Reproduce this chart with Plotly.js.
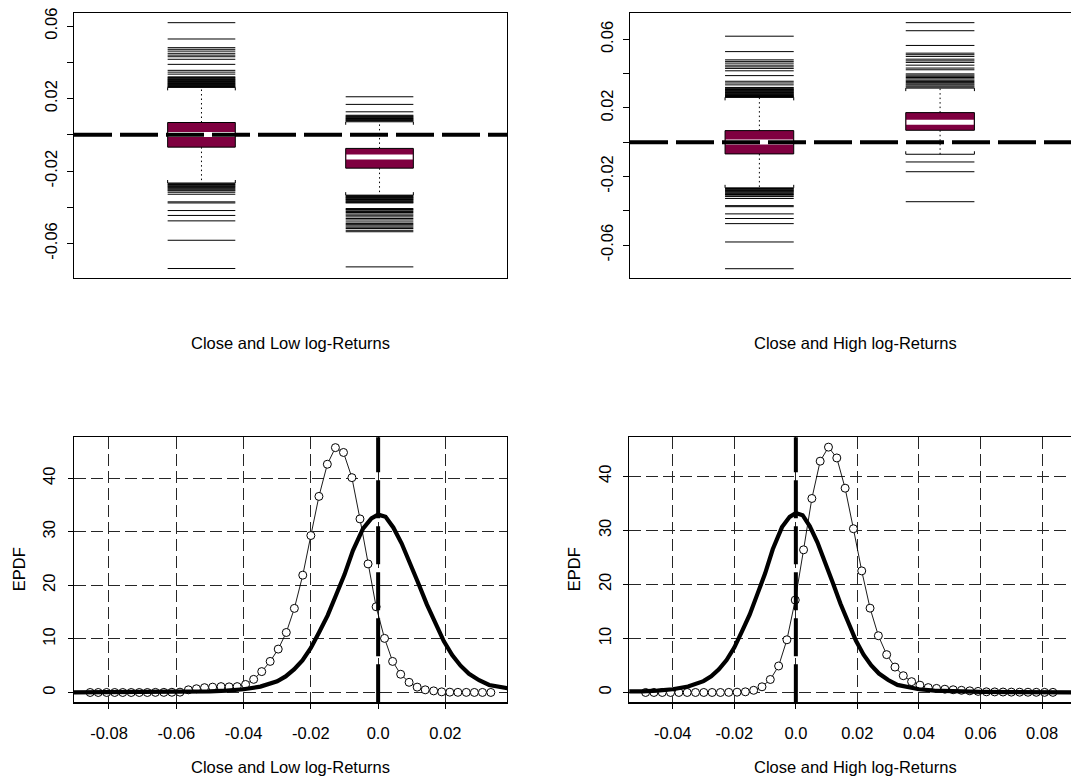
<!DOCTYPE html>
<html>
<head>
<meta charset="utf-8">
<script src="https://cdn.plot.ly/plotly-3.0.1.min.js"></script>
<style>
  html, body { margin: 0; padding: 0; overflow: hidden; background: #fff; }
  #chart { width: 1085px; height: 778px; }
</style>
</head>
<body>
<div id="chart"></div>
<script>
// ---- Box plot summaries: [lower whisker, Q1, median, Q3, upper whisker] ----
const closeFive = [-0.0266, -0.0068, 0.0002, 0.0068, 0.0262];
const lowFive   = [-0.0333, -0.0184, -0.0123, -0.0075, 0.0072];
const highFive  = [-0.0070, 0.0070, 0.0117, 0.0173, 0.0316];

// ---- Outlying returns beyond the whiskers ----
const closeOutliers = [0.0619, 0.0529, 0.0481, 0.0472, 0.0462, 0.0450, 0.0440, 0.0431, 0.0417,
  0.0389, 0.0356, 0.0346, 0.0335, 0.0320, 0.0316, 0.0312, 0.0308, 0.0305, 0.0301, 0.0298,
  0.0294, 0.0290, 0.0287, 0.0283, 0.0280, 0.0277, 0.0273, 0.0270, 0.0267, 0.0264,
  -0.0270, -0.0274, -0.0278, -0.0282, -0.0286, -0.0290, -0.0295, -0.0300, -0.0305, -0.0309,
  -0.0317, -0.0328, -0.0370, -0.0376, -0.0418, -0.0445, -0.0475, -0.0582, -0.0738];
const lowOutliers = [0.0210, 0.0168, 0.0127, 0.0108, 0.0104, 0.0100, 0.0097, 0.0093, 0.0090,
  0.0086, 0.0083, 0.0080, 0.0077,
  -0.0336, -0.0340, -0.0344, -0.0347, -0.0350, -0.0354, -0.0357, -0.0361, -0.0365, -0.0369,
  -0.0373, -0.0376, -0.0407, -0.0412, -0.0416, -0.0423, -0.0429, -0.0437, -0.0444, -0.0453,
  -0.0462, -0.0470, -0.0481, -0.0490, -0.0496, -0.0503, -0.0510, -0.0517, -0.0527, -0.0535,
  -0.0729];
const highOutliers = [0.0698, 0.0651, 0.0565, 0.0520, 0.0511, 0.0501, 0.0485, 0.0475, 0.0466,
  0.0450, 0.0433, 0.0423, 0.0399, 0.0392, 0.0385, 0.0378, 0.0370, 0.0362, 0.0355, 0.0348,
  0.0341, 0.0335, 0.0328, 0.0322,
  -0.0115, -0.0172, -0.0347];

// ---- Empirical densities (points) ----
const lowDensX = [-0.0856, -0.0832, -0.0807, -0.0783, -0.0759, -0.0734, -0.0710, -0.0686, -0.0662, -0.0637,
  -0.0613, -0.0589, -0.0564, -0.0540, -0.0516, -0.0492, -0.0467, -0.0443, -0.0419, -0.0394,
  -0.0370, -0.0346, -0.0321, -0.0297, -0.0273, -0.0249, -0.0224, -0.0200, -0.0176, -0.0151,
  -0.0127, -0.0103, -0.0078, -0.0054, -0.0030, -0.0006, 0.0019, 0.0043, 0.0067, 0.0092,
  0.0116, 0.0140, 0.0165, 0.0189, 0.0213, 0.0237, 0.0262, 0.0286, 0.0310, 0.0335];
const lowDensY = [0, 0, 0, 0, 0, 0, 0, 0, 0.02, 0.02,
  0.04, 0.06, 0.5, 0.7, 0.9, 1.0, 1.1, 1.05, 1.1, 1.5,
  2.45, 3.9, 5.8, 8.1, 11.2, 15.7, 21.9, 29.3, 36.6, 42.6,
  45.7, 44.8, 40.1, 32.4, 24.0, 16.0, 10.1, 5.8, 3.4, 1.9,
  1.0, 0.5, 0.3, 0.12, 0.06, 0.03, 0.02, 0.01, 0.01, 0.01];

const highDensX = [-0.0488, -0.0461, -0.0434, -0.0407, -0.0380, -0.0353, -0.0326, -0.0299, -0.0272, -0.0245,
  -0.0218, -0.0191, -0.0164, -0.0137, -0.0110, -0.0083, -0.0056, -0.0029, -0.0002, 0.0025,
  0.0052, 0.0079, 0.0106, 0.0133, 0.0160, 0.0187, 0.0214, 0.0241, 0.0268, 0.0295,
  0.0322, 0.0349, 0.0376, 0.0403, 0.0430, 0.0457, 0.0484, 0.0511, 0.0538, 0.0565,
  0.0592, 0.0619, 0.0646, 0.0673, 0.0700, 0.0727, 0.0754, 0.0781, 0.0808, 0.0835];
const highDensY = [0, 0, 0, 0, 0, 0, 0, 0, 0, 0,
  0.02, 0.05, 0.12, 0.4, 1.05, 2.4, 4.9, 9.75, 17.1, 26.4,
  35.9, 42.8, 45.4, 43.4, 37.8, 30.3, 22.5, 15.6, 10.5, 7.0,
  4.7, 3.1, 2.0, 1.35, 0.9, 0.75, 0.6, 0.5, 0.4, 0.3,
  0.2, 0.12, 0.1, 0.08, 0.06, 0.05, 0.04, 0.03, 0.02, 0.02];

// ---- Density of close returns (solid curve) ----
const closeDensX = [-0.0904, -0.08, -0.07, -0.06, -0.055, -0.05, -0.045, -0.04, -0.035, -0.0325,
  -0.03, -0.0275, -0.025, -0.0225, -0.02, -0.0175, -0.015, -0.0125, -0.01, -0.0075,
  -0.0045, -0.002, 0.0, 0.0022, 0.0045, 0.007, 0.0095, 0.012, 0.0145, 0.017,
  0.0195, 0.022, 0.0245, 0.027, 0.03, 0.033, 0.036, 0.04, 0.045, 0.05,
  0.06, 0.07, 0.08, 0.09];
const closeDensY = [0.02, 0.04, 0.06, 0.1, 0.15, 0.22, 0.35, 0.6, 1.1, 1.5,
  2.1, 3.0, 4.3, 6.0, 8.3, 11.3, 14.4, 18.2, 22.0, 26.5,
  30.6, 32.5, 33.2, 32.8, 30.8, 27.8, 24.2, 20.3, 16.4, 12.8,
  9.6, 7.0, 5.0, 3.5, 2.3, 1.4, 1.0, 0.6, 0.35, 0.22,
  0.1, 0.06, 0.04, 0.02];

// ---- Axis ticks and titles ----
const boxTickVals = [-0.06, -0.04, -0.02, 0, 0.02, 0.04, 0.06];
const boxTickText = ['-0.06', '', '-0.02', '', '0.02', '', '0.06'];
const lowTickVals = [-0.08, -0.06, -0.04, -0.02, 0, 0.02];
const lowTickText = ['-0.08', '-0.06', '-0.04', '-0.02', '0.0', '0.02'];
const highTickVals = [-0.04, -0.02, 0, 0.02, 0.04, 0.06, 0.08];
const highTickText = ['-0.04', '-0.02', '0.0', '0.02', '0.04', '0.06', '0.08'];
const densTickVals = [0, 10, 20, 30, 40];
const lowTitle = 'Close and Low log-Returns';
const highTitle = 'Close and High log-Returns';
const densTitle = 'EPDF';
const refLevel = 0;

// ---- Layout geometry (pixels) ----
const W = 1085, H = 778;
const FONT = 'Liberation Sans, Arial, Helvetica, sans-serif';
const FS = 16.5;
const BOXFILL = '#7f0040';
const P = {
  tl: {x0: 74, x1: 507, y0: 12.9, y1: 278.3, xr: [0.284, 2.716], yr: [-0.0792, 0.0673]},
  tr: {x0: 630, x1: 1072, y0: 12.9, y1: 278.3, xr: [0.284, 2.730], yr: [-0.0794, 0.0755]},
  bl: {x0: 74, x1: 507, y0: 437.3, y1: 702.3, xr: [-0.0904, 0.0383], yr: [-1.83, 47.63]},
  br: {x0: 629.3, x1: 1072, y0: 437.3, y1: 702.3, xr: [-0.0541, 0.0897], yr: [-1.82, 47.22]}
};
const dx = p => [p.x0 / W, p.x1 / W];
const dy = p => [1 - p.y1 / H, 1 - p.y0 / H];
const HW = 0.19;
const rightTitleX = 855;

function boxTraces(xa, ya, pos, five, outl, panel) {
  const [lo, q1, med, q3, hi] = five;
  const unit = (panel.yr[1] - panel.yr[0]) / (panel.y1 - panel.y0); // data per px
  const t = 3 * unit;
  const ox = [], oy = [];
  outl.forEach(v => { ox.push(pos - HW, pos + HW, null); oy.push(v, v, null); });
  // staples with short end ticks pointing toward the box
  ox.push(pos - HW, pos - HW, pos + HW, pos + HW, null);
  oy.push(hi - t, hi, hi, hi - t, null);
  ox.push(pos - HW, pos - HW, pos + HW, pos + HW, null);
  oy.push(lo + t, lo, lo, lo + t, null);
  const common = {xaxis: xa, yaxis: ya, type: 'scatter', mode: 'lines', hoverinfo: 'skip', showlegend: false};
  return [
    Object.assign({}, common, {x: ox, y: oy, line: {color: '#000', width: 1}}),
    Object.assign({}, common, {x: [pos, pos, null, pos, pos], y: [q3, hi, null, q1, lo],
      line: {color: '#000', width: 1, dash: '1.5px,3px'}}),
    Object.assign({}, common, {x: [pos - HW, pos + HW, pos + HW, pos - HW, pos - HW],
      y: [q1, q1, q3, q3, q1], fill: 'toself', fillcolor: BOXFILL, line: {color: '#000', width: 1}}),
    Object.assign({}, common, {x: [pos - HW + 0.004, pos + HW - 0.004], y: [med, med],
      line: {color: '#fff', width: 5}})
  ];
}

function densTraces(xa, ya, px, py) {
  return [
    {xaxis: xa, yaxis: ya, type: 'scatter', mode: 'lines+markers', x: px, y: py,
     line: {color: '#000', width: 0.9},
     marker: {symbol: 'circle', size: 8, color: '#fff', line: {color: '#000', width: 1}},
     hoverinfo: 'skip', showlegend: false},
    {xaxis: xa, yaxis: ya, type: 'scatter', mode: 'lines', x: closeDensX, y: closeDensY,
     line: {color: '#000', width: 4.2}, hoverinfo: 'skip', showlegend: false}
  ];
}

const data = [].concat(
  boxTraces('x', 'y', 1, closeFive, closeOutliers, P.tl),
  boxTraces('x', 'y', 2, lowFive, lowOutliers, P.tl),
  boxTraces('x2', 'y2', 1, closeFive, closeOutliers, P.tr),
  boxTraces('x2', 'y2', 2, highFive, highOutliers, P.tr),
  densTraces('x3', 'y3', lowDensX, lowDensY),
  densTraces('x4', 'y4', highDensX, highDensY)
);

const frame = {showline: true, mirror: true, linecolor: '#000', linewidth: 1, zeroline: false};
const tickFont = {family: FONT, size: FS, color: '#000'};

function boxY(p, anchor) {
  return Object.assign({}, frame, {domain: dy(p), range: p.yr, tickvals: boxTickVals, ticktext: boxTickText,
    ticks: 'outside', ticklen: 6, tickcolor: '#000', tickangle: -90, showgrid: false,
    tickfont: tickFont, ticklabelstandoff: 3, anchor: anchor});
}
function boxX(p, anchor) {
  return Object.assign({}, frame, {domain: dx(p), range: p.xr, showticklabels: false, ticks: '',
    showgrid: false, anchor: anchor});
}
const gridStyle = {showgrid: true, gridcolor: '#262626', gridwidth: 1, griddash: '12px,5px'};
function densX(p, vals, text, anchor) {
  return Object.assign({}, frame, gridStyle, {domain: dx(p), range: p.xr, tickvals: vals, ticktext: text,
    ticks: 'outside', ticklen: 5, tickcolor: '#000', tickfont: tickFont, anchor: anchor,
    ticklabelstandoff: 11, linewidth: 1.3});
}
function densY(p, anchor) {
  return Object.assign({}, frame, gridStyle, {domain: dy(p), range: p.yr, tickvals: densTickVals,
    ticks: 'outside', ticklen: 5, tickcolor: '#000', tickangle: -90, tickfont: tickFont,
    anchor: anchor, ticklabelstandoff: 6});
}

const titleFont = {family: FONT, size: FS, color: '#000'};
function ann(text, xpx, ypx, angle) {
  return {text: text, xref: 'paper', yref: 'paper', x: xpx / W, y: 1 - ypx / H,
    xanchor: 'center', yanchor: 'middle', showarrow: false, font: titleFont, textangle: angle || 0};
}
function zeroLine(xref, yref, vertical) {
  const base = {type: 'line', xref: xref, yref: yref, layer: 'above',
    line: {color: '#000', width: 4, dash: '38px,8px'}};
  return vertical ? Object.assign(base, {x0: refLevel, x1: refLevel, y0: 0, y1: 1})
                  : Object.assign(base, {x0: 0, x1: 1, y0: refLevel, y1: refLevel});
}

const layout = {
  width: W, height: H,
  margin: {l: 0, r: 0, t: 0, b: 0, pad: 0},
  paper_bgcolor: '#fff', plot_bgcolor: '#fff',
  showlegend: false,
  xaxis: boxX(P.tl, 'y'), yaxis: boxY(P.tl, 'x'),
  xaxis2: boxX(P.tr, 'y2'), yaxis2: boxY(P.tr, 'x2'),
  xaxis3: densX(P.bl, lowTickVals, lowTickText, 'y3'), yaxis3: densY(P.bl, 'x3'),
  xaxis4: densX(P.br, highTickVals, highTickText, 'y4'), yaxis4: densY(P.br, 'x4'),
  shapes: [
    zeroLine('x domain', 'y', false),
    zeroLine('x2 domain', 'y2', false),
    zeroLine('x3', 'y3 domain', true),
    zeroLine('x4', 'y4 domain', true)
  ],
  annotations: [
    ann(lowTitle, (P.tl.x0 + P.tl.x1) / 2, 343),
    ann(highTitle, rightTitleX, 343),
    ann(lowTitle, (P.bl.x0 + P.bl.x1) / 2, 766.5),
    ann(highTitle, rightTitleX, 766.5),
    ann(densTitle, 18.5, (P.bl.y0 + P.bl.y1) / 2, -90),
    ann(densTitle, 573.5, (P.br.y0 + P.br.y1) / 2, -90)
  ]
};

Plotly.newPlot('chart', data, layout, {staticPlot: true, displayModeBar: false});
</script>
</body>
</html>
